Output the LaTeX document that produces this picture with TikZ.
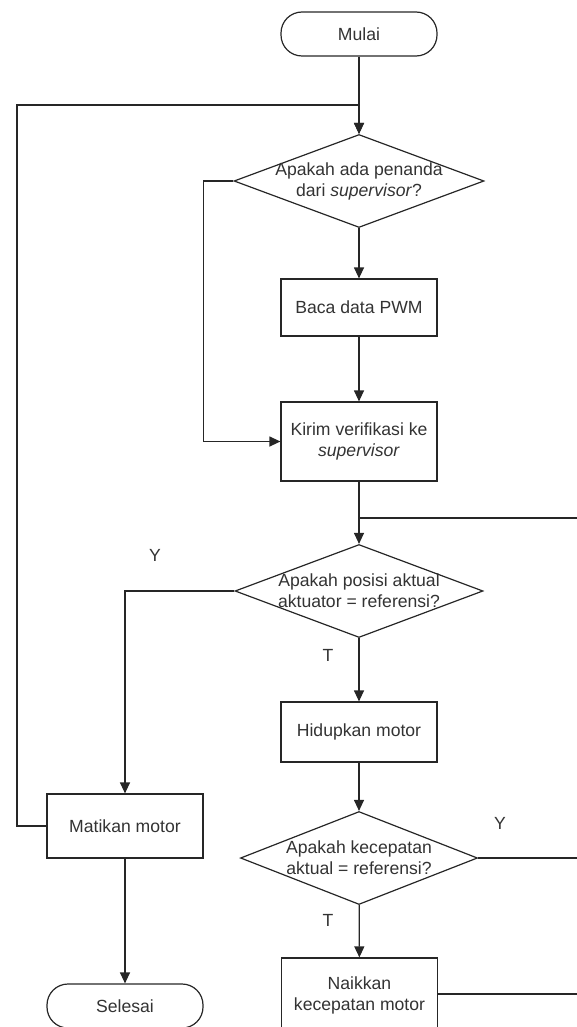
\documentclass[tikz,border=0pt]{standalone}
\usepackage{fontspec}
\setmainfont{Liberation Sans}
\usetikzlibrary{arrows.meta,shapes.geometric}

\begin{document}
\begin{tikzpicture}[x=1pt,y=-1pt]

		\tikzset{every node/.style = {font=\fontsize{17.6}{21}\selectfont,text=black!80}}
		\tikzset{terminal/.style = {shape=rectangle,draw,rounded corners=21pt,minimum width=156pt,minimum height=44pt,line width=1.2pt,draw=black!85}}
		\tikzset{process/.style = {shape=rectangle,draw,align=center,minimum width=156pt,line width=1.2pt,draw=black!85}}
		\tikzset{decision/.style = {shape=diamond,draw,inner sep=0pt,line width=1.2pt,draw=black!85}}
		\tikzset{edge/.style = {->,> = {Triangle[length=11pt,width=10pt]},line width=1.2pt,draw=black!85}}
		\tikzset{line/.style = {-,line width=1.2pt,draw=black!85}}
		\useasboundingbox (0,0) rectangle (577,1027);
		\node[terminal] (mulai) at (359,34) {Mulai};
		\node[decision,minimum width=250pt,minimum height=93pt] (d1) at (359,181) {};
		\node[align=center] (d1t) at (d1) {Apakah ada penanda\\dari \textit{supervisor}?};
		\node[process,minimum height=57pt] (baca) at (359,307.5) {Baca data PWM};
		\node[process,minimum height=79pt] (kirim) at (359,441.5) {Kirim verifikasi ke\\\textit{supervisor}};
		\node[decision,minimum width=248pt,minimum height=93pt] (d2) at (359,591) {};
		\node[align=center] (d2t) at (d2) {Apakah posisi aktual\\aktuator = referensi?};
		\node[process,minimum height=60pt] (hidup) at (359,732) {Hidupkan motor};
		\node[decision,minimum width=237pt,minimum height=93pt] (d3) at (359,858) {};
		\node[align=center] (d3t) at (d3) {Apakah kecepatan\\aktual = referensi?};
		\node[process,minimum height=74pt] (naik) at (359.5,995) {Naikkan\\kecepatan motor};
		\node[process,minimum height=64pt] (matikan) at (125,826) {Matikan motor};
		\node[terminal] (selesai) at (125,1006) {Selesai};
		%labels
		\node (y1) at (155,555) {Y};
		\node (t1) at (328,655) {T};
		\node (y2) at (500,823) {Y};
		\node (t2) at (328,920) {T};
		%coordinates
		\coordinate (j1) at (359,105);
		\coordinate (j2) at (359,518);
		\coordinate (fb) at (17,105);
		\coordinate (r1) at (580,518);
		\coordinate (r2) at (580,858);
		\coordinate (r3) at (580,994);
		%edges
		\draw[edge] (mulai) to (d1);
		\draw[edge] (matikan.west) -| (fb) -- (j1) -- (d1);
		\draw[edge] (d1) to (baca);
		\draw[edge] (d1.west) -- ++(-30,0) |- (kirim.west);
		\draw[edge] (baca) to (kirim);
		\draw[edge] (kirim) to (d2);
		\draw[line] (j2) to (r1);
		\draw[edge] (d2.west) -| (matikan);
		\draw[edge] (d2) to (hidup);
		\draw[edge] (hidup) to (d3);
		\draw[line] (d3.east) to (r2);
		\draw[edge] (d3) to (naik);
		\draw[line] (naik.east |- r3) to (r3);
		\draw[edge] (matikan) to (selesai);
		\end{tikzpicture}
\end{document}
